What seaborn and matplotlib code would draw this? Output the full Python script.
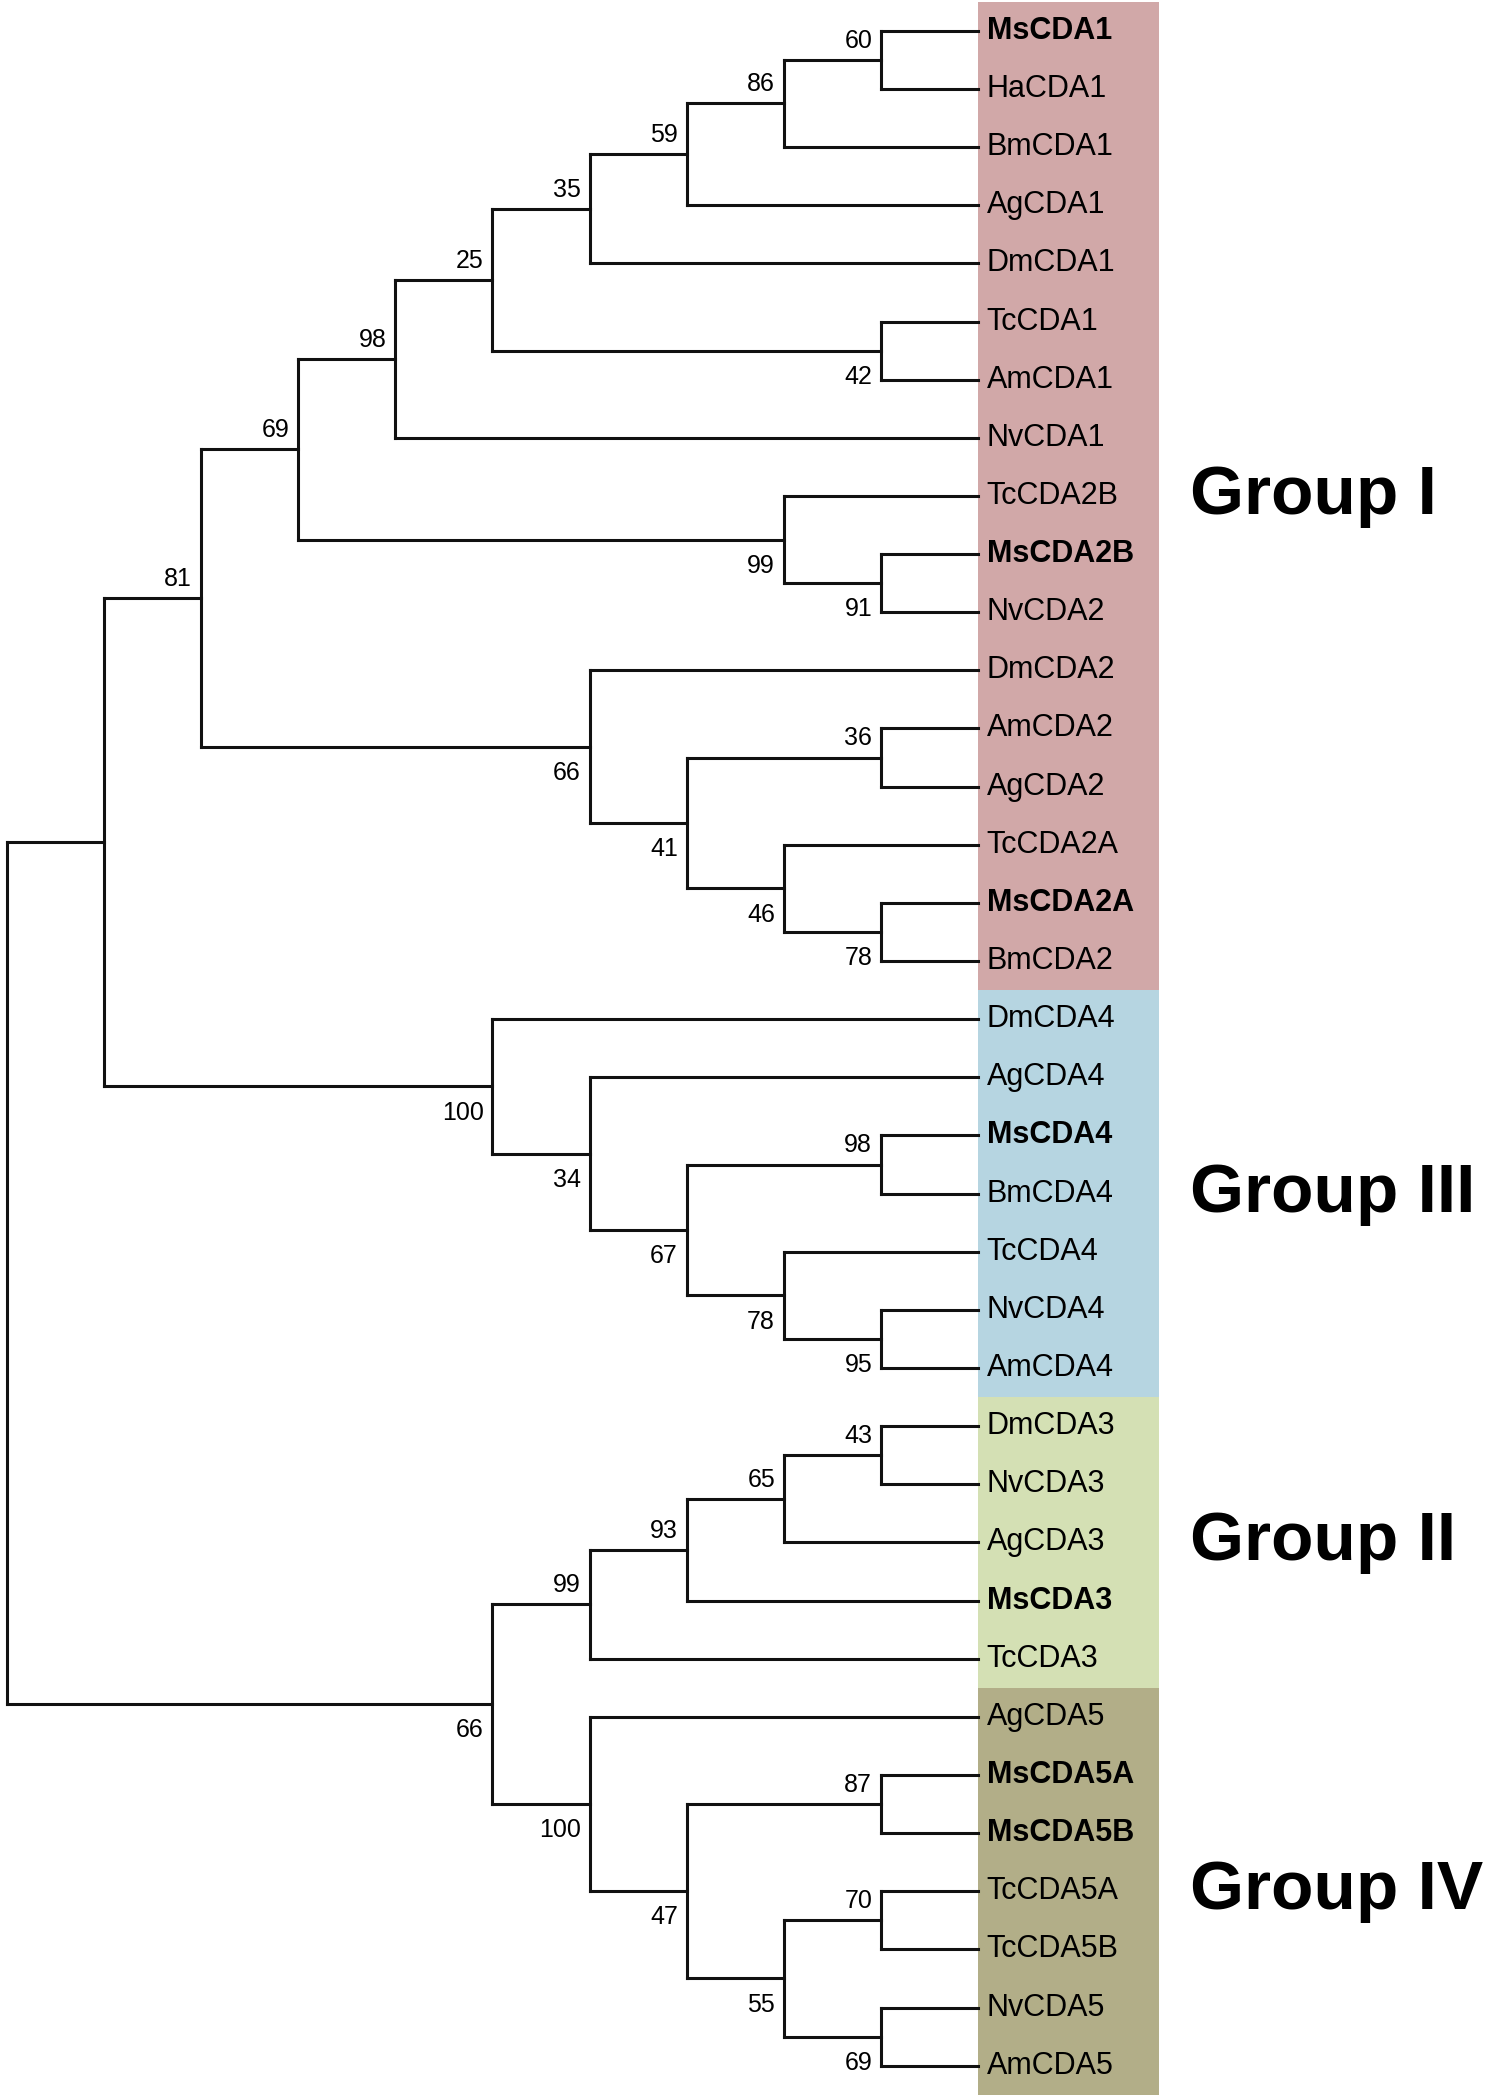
"""Neighbour-joining tree of insect chitin deacetylases (CDA), groups I-IV."""

import matplotlib.pyplot as plt
import seaborn as sns
from matplotlib.patches import Rectangle

sns.set_theme(style="white")
plt.rcParams["font.family"] = ["Liberation Sans", "DejaVu Sans"]
plt.rcParams["text.color"] = "black"

# leaves, top to bottom
LEAVES = [
    "MsCDA1", "HaCDA1", "BmCDA1", "AgCDA1", "DmCDA1", "TcCDA1", "AmCDA1",
    "NvCDA1", "TcCDA2B", "MsCDA2B", "NvCDA2", "DmCDA2", "AmCDA2", "AgCDA2",
    "TcCDA2A", "MsCDA2A", "BmCDA2",
    "DmCDA4", "AgCDA4", "MsCDA4", "BmCDA4", "TcCDA4", "NvCDA4", "AmCDA4",
    "DmCDA3", "NvCDA3", "AgCDA3", "MsCDA3", "TcCDA3",
    "AgCDA5", "MsCDA5A", "MsCDA5B", "TcCDA5A", "TcCDA5B", "NvCDA5", "AmCDA5",
]
BOLD_PREFIX = "Ms"

# internal nodes: (id, upper child, lower child, bootstrap)
NODES = [
    ("n60", "MsCDA1", "HaCDA1", 60),
    ("n86", "n60", "BmCDA1", 86),
    ("n59", "n86", "AgCDA1", 59),
    ("n35", "n59", "DmCDA1", 35),
    ("n42", "TcCDA1", "AmCDA1", 42),
    ("n25", "n35", "n42", 25),
    ("n98a", "n25", "NvCDA1", 98),
    ("n91", "MsCDA2B", "NvCDA2", 91),
    ("n99a", "TcCDA2B", "n91", 99),
    ("n69a", "n98a", "n99a", 69),
    ("n36", "AmCDA2", "AgCDA2", 36),
    ("n78a", "MsCDA2A", "BmCDA2", 78),
    ("n46", "TcCDA2A", "n78a", 46),
    ("n41", "n36", "n46", 41),
    ("n66a", "DmCDA2", "n41", 66),
    ("n81", "n69a", "n66a", 81),
    ("n98b", "MsCDA4", "BmCDA4", 98),
    ("n95", "NvCDA4", "AmCDA4", 95),
    ("n78b", "TcCDA4", "n95", 78),
    ("n67", "n98b", "n78b", 67),
    ("n34", "AgCDA4", "n67", 34),
    ("n100a", "DmCDA4", "n34", 100),
    ("nA", "n81", "n100a", None),
    ("n43", "DmCDA3", "NvCDA3", 43),
    ("n65", "n43", "AgCDA3", 65),
    ("n93", "n65", "MsCDA3", 93),
    ("n99b", "n93", "TcCDA3", 99),
    ("n87", "MsCDA5A", "MsCDA5B", 87),
    ("n70", "TcCDA5A", "TcCDA5B", 70),
    ("n69b", "NvCDA5", "AmCDA5", 69),
    ("n55", "n70", "n69b", 55),
    ("n47", "n87", "n55", 47),
    ("n100b", "AgCDA5", "n47", 100),
    ("n66b", "n99b", "n100b", 66),
    ("root", "nA", "n66b", None),
]

GROUP_NAMES = ["Group I", "Group III", "Group II", "Group IV"]
GROUP_FIRST = ["MsCDA1", "DmCDA4", "DmCDA3", "AgCDA5"]
GROUP_LAST = ["BmCDA2", "AmCDA4", "TcCDA3", "AmCDA5"]
GROUP_COLORS = ["#d1a8a8", "#b6d5e1", "#d4e0b4", "#b2ae88"]

# ---- layout (cladogram: x from node height, y from leaf order) ----
children = {n: (a, b) for n, a, b, _ in NODES}
support = {n: s for n, _, _, s in NODES}
height, ypos = {}, {}
for i, leaf in enumerate(LEAVES):
    height[leaf], ypos[leaf] = 0, float(i)
for n, a, b, _ in NODES:
    height[n] = max(height[a], height[b]) + 1
    ypos[n] = (ypos[a] + ypos[b]) / 2
TIP = height["root"]
xpos = {k: TIP - h for k, h in height.items()}

fig = plt.figure(figsize=(14.91, 21), dpi=100)
ax = fig.add_axes([0, 0, 1, 1])
LINE = dict(color="#111111", lw=2.2, solid_capstyle="projecting")

# group shading and names
box_w = 1.86
for name, first, last, col in zip(GROUP_NAMES, GROUP_FIRST, GROUP_LAST, GROUP_COLORS):
    y0, y1 = ypos[first] - 0.5, ypos[last] + 0.5
    ax.add_patch(Rectangle((TIP, y0), box_w, y1 - y0, color=col, lw=0, zorder=0))
    ax.text(TIP + box_w + 0.32, (y0 + y1) / 2, name, fontsize=50,
            fontweight="bold", ha="left", va="center")

for n, a, b, s in NODES:
    x = xpos[n]
    ax.plot([x, x], [ypos[a], ypos[b]], **LINE)
    for child, upper in ((a, True), (b, False)):
        ax.plot([x, xpos[child]], [ypos[child]] * 2, **LINE)
        if child in children and support[child] is not None:
            dy = -0.33 if upper else 0.45
            ax.text(xpos[child] - 0.09, ypos[child] + dy, str(support[child]),
                    fontsize=18, ha="right", va="center")

for leaf in LEAVES:
    ax.text(TIP + 0.09, ypos[leaf], leaf, fontsize=22, va="center", ha="left",
            fontweight="bold" if leaf.startswith(BOLD_PREFIX) else "normal")

ax.set_xlim(-0.069, 15.28)
ax.set_ylim(35.59, -0.53)
ax.axis("off")
fig.savefig("out.png", dpi=100)
